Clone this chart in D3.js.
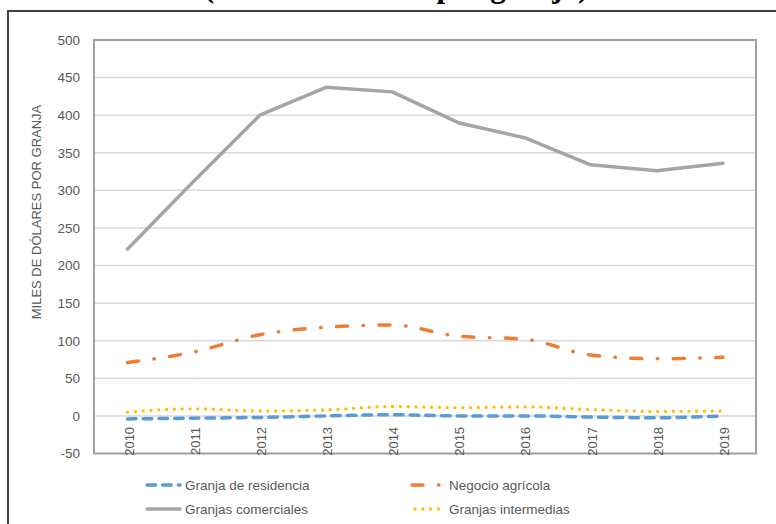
<!DOCTYPE html>
<html>
<head>
<meta charset="utf-8">
<script src="https://cdn.jsdelivr.net/npm/d3@7"></script>
<style>
  html, body { margin: 0; padding: 0; background: #ffffff; }
  svg { display: block; }
</style>
</head>
<body>
<svg id="chart" width="776" height="524"></svg>
<script>
// Income per farm by farm type, 2010-2019 (thousands of dollars)
const years = ['2010', '2011', '2012', '2013', '2014', '2015', '2016', '2017', '2018', '2019'];
const residencia = [-4, -3, -2, 0, 1.5, 0, 0, -1.5, -2.5, 0];
const negocio = [71, 85, 108, 118, 121, 106, 102, 81, 76, 78];
const comerciales = [222, 312, 400, 437, 431, 390, 370, 334, 326, 336];
const intermedias = [5, 9.5, 6.5, 8, 12.5, 11, 12, 8.5, 6, 6.5];
const yTicks = [-50, 0, 50, 100, 150, 200, 250, 300, 350, 400, 450, 500];

const seriesNames = ['Granja de residencia', 'Negocio agrícola', 'Granjas comerciales', 'Granjas intermedias'];
const yTitle = 'MILES DE DÓLARES POR GRANJA';
const titleText = '(Miles de dólares por granja)';

const series = [
  { name: seriesNames[0], values: residencia, color: '#5b9bd5', dash: '8.5,7.2', cap: 'round', width: 3.5, curve: d3.curveMonotoneX },
  { name: seriesNames[1], values: negocio, color: '#ed7d31', dash: '11,15.5,0.5,15.5', cap: 'round', width: 3.5, curve: d3.curveMonotoneX },
  { name: seriesNames[2], values: comerciales, color: '#a5a5a5', dash: null, cap: 'round', width: 3.5, curve: d3.curveLinear },
  { name: seriesNames[3], values: intermedias, color: '#ffc000', dash: '0.1,7.7', cap: 'round', width: 3.3, curve: d3.curveMonotoneX }
];

const svg = d3.select('#chart');
const font = '"Liberation Sans", Arial, sans-serif';
const textGray = '#595959';

// Title line above the frame (only its lowest part falls inside the page)
svg.append('text')
  .attr('x', 396).attr('y', -3)
  .attr('text-anchor', 'middle')
  .attr('font-family', '"Liberation Serif", "Times New Roman", serif')
  .attr('font-weight', 'bold')
  .attr('font-size', 31)
  .attr('fill', '#000')
  .text(titleText);

svg.append('path')
  .attr('d', 'M8,524 L8,11 L776,11')
  .attr('fill', 'none')
  .attr('stroke', '#404040')
  .attr('stroke-width', 2);

// Plot area
const plot = { left: 94, right: 756, top: 40, bottom: 453.5 };

const x = d3.scalePoint()
  .domain(years)
  .range([plot.left + 0.5, plot.right])
  .padding(0.5);

const y = d3.scaleLinear()
  .domain([-50, 500])
  .range([plot.bottom, plot.top]);

// Horizontal gridlines
svg.append('g')
  .selectAll('line')
  .data(yTicks.filter(t => t > -50 && t < 500))
  .join('line')
  .attr('x1', plot.left).attr('x2', plot.right)
  .attr('y1', d => y(d)).attr('y2', d => y(d))
  .attr('stroke', '#d9d9d9')
  .attr('stroke-width', 1.5);

// Plot frame
svg.append('rect')
  .attr('x', plot.left).attr('y', plot.top)
  .attr('width', plot.right - plot.left)
  .attr('height', plot.bottom - plot.top)
  .attr('fill', 'none')
  .attr('stroke', '#a0a0a0')
  .attr('stroke-width', 2);

// Y axis labels
const yAxis = d3.axisLeft(y).tickValues(yTicks).tickFormat(d => String(d)).tickSize(0).tickPadding(14);
const gy = svg.append('g')
  .attr('transform', `translate(${plot.left},0)`)
  .call(yAxis);
gy.select('.domain').remove();
gy.selectAll('text')
  .attr('font-family', font)
  .attr('font-size', 13.5)
  .attr('fill', textGray);

// X axis labels, rotated, placed just under the zero line
const xAxis = d3.axisBottom(x).tickSize(0).tickPadding(0);
const gx = svg.append('g')
  .attr('transform', `translate(0,${y(0)})`)
  .call(xAxis);
gx.select('.domain').remove();
gx.selectAll('text')
  .attr('font-family', font)
  .attr('font-size', 13)
  .attr('fill', textGray)
  .attr('text-anchor', 'end')
  .attr('dy', null)
  .attr('y', null)
  .attr('transform', 'translate(5.5,11) rotate(-90)');

// Y axis title
svg.append('text')
  .attr('transform', 'translate(41,212) rotate(-90)')
  .attr('text-anchor', 'middle')
  .attr('font-family', font)
  .attr('font-size', 13)
  .attr('fill', textGray)
  .text(yTitle);

// Series lines
const lines = svg.append('g');
series.forEach(s => {
  const line = d3.line()
    .x((d, i) => x(years[i]))
    .y(d => y(d))
    .curve(s.curve);
  lines.append('path')
    .datum(s.values)
    .attr('d', line)
    .attr('fill', 'none')
    .attr('stroke', s.color)
    .attr('stroke-width', s.width)
    .attr('stroke-linecap', s.cap)
    .attr('stroke-linejoin', 'round')
    .attr('stroke-dasharray', s.dash);
});

// Legend: two rows, two columns
const legendPos = [
  { x1: 147, x2: 180, tx: 185, y: 485 },
  { x1: 412, x2: 446, tx: 449, y: 485 },
  { x1: 147, x2: 180, tx: 185, y: 509 },
  { x1: 415, x2: 446, tx: 449, y: 509 }
];
const legend = svg.append('g');
series.forEach((s, i) => {
  const p = legendPos[i];
  legend.append('line')
    .attr('x1', p.x1).attr('x2', p.x2)
    .attr('y1', p.y).attr('y2', p.y)
    .attr('stroke', s.color)
    .attr('stroke-width', s.width)
    .attr('stroke-linecap', s.cap)
    .attr('stroke-dasharray', s.dash);
  legend.append('text')
    .attr('x', p.tx).attr('y', p.y + 5)
    .attr('font-family', font)
    .attr('font-size', 13.5)
    .attr('fill', textGray)
    .text(s.name);
});
</script>
</body>
</html>
